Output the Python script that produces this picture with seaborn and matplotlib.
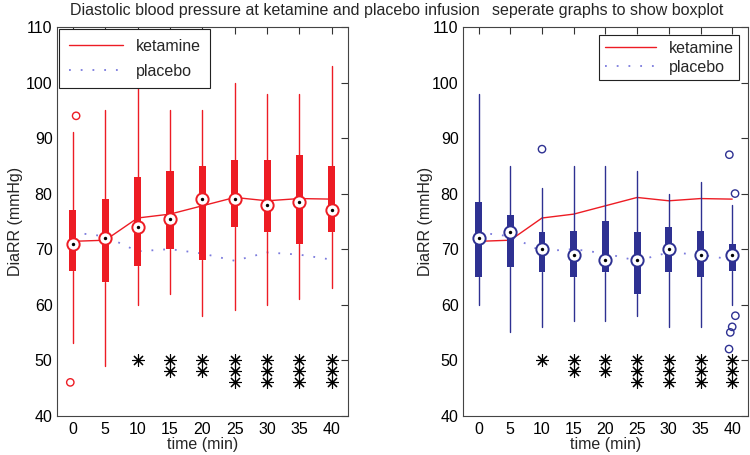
import numpy as np
import pandas as pd
import matplotlib
matplotlib.use("Agg")
import matplotlib.pyplot as plt
import seaborn as sns
from matplotlib.lines import Line2D

# ---------------- data ----------------
times = [0, 5, 10, 15, 20, 25, 30, 35, 40]

ket_whislo = [53, 49, 60, 62, 58, 59, 60, 61, 63]
ket_q1 = [66, 64, 67, 70, 68, 74, 73, 71, 73]
ket_med = [71, 72, 74, 75.5, 79, 79, 78, 78.5, 77]
ket_q3 = [77, 79, 83, 84, 85, 86, 86, 87, 85]
ket_whishi = [91, 95, 99, 95, 95, 100, 98, 98, 103]
ket_mean = [71.4, 71.6, 75.6, 76.3, 77.8, 79.3, 78.7, 79.1, 79.0]
ket_out_time = [0, 0]
ket_out_val = [94, 46]
ket_out_jit = [0.1, -0.08]

plac_whislo = [60, 55, 56, 57, 57, 58, 56, 56, 60]
plac_q1 = [65, 66.7, 65.8, 65, 65.8, 62, 65.8, 65, 66]
plac_med = [72, 73, 70, 69, 68, 68, 70, 69, 69]
plac_q3 = [78.5, 76.2, 73, 73.2, 75, 73, 74, 73.2, 71]
plac_whishi = [98, 85, 81, 85, 85, 84, 80, 82, 78]
plac_mean = [73.0, 72.3, 69.6, 70.0, 69.2, 67.9, 69.4, 69.0, 68.1]
plac_out_time = [10, 40, 40, 40, 40, 40, 40]
plac_out_val = [88, 87, 80, 58, 56, 55, 52]
plac_out_jit = [0.0, -0.09, 0.09, 0.1, 0.0, -0.06, -0.1]

star_counts = [0, 0, 1, 2, 2, 3, 3, 3, 3]
star_levels = [50, 48, 46]

RED = "#ED1C24"
BLUE = "#2E3192"
DOT = "#7B7BDD"
DOTSTYLE = (0, (1, 5.5))
FS = 11.5

sns.set_theme(style="white")
plt.rcParams["font.family"] = ["Liberation Sans", "DejaVu Sans"]
plt.rcParams["font.size"] = FS

fig = plt.figure(figsize=(7.5, 4.55), dpi=100)
ax1 = fig.add_axes([0.0756, 0.0864, 0.3884, 0.8543])
ax2 = fig.add_axes([0.617, 0.0864, 0.3804, 0.8543])

pos = np.arange(len(times))
tindex = {t: i for i, t in enumerate(times)}


def draw(ax, q1, med, q3, wlo, whi, out_t, out_v, out_j, color):
    stats = [dict(med=m, q1=a, q3=b, whislo=lo, whishi=hi, fliers=[])
             for m, a, b, lo, hi in zip(med, q1, q3, wlo, whi)]
    ax.bxp(stats, positions=pos, widths=0.22, patch_artist=True,
           showcaps=False, showfliers=False,
           boxprops=dict(facecolor=color, edgecolor="none", linewidth=0),
           whiskerprops=dict(color=color, linewidth=1.0),
           medianprops=dict(linewidth=0),
           manage_ticks=False, zorder=2)
    # median markers
    sns.scatterplot(x=pos, y=med, ax=ax, marker="o", s=78, facecolor="white",
                    edgecolor=color, linewidth=1.4, zorder=4, legend=False)
    sns.scatterplot(x=pos, y=med, ax=ax, marker="o", s=6, color="black",
                    edgecolor="black", linewidth=0, zorder=5, legend=False)
    # outliers
    ox = [tindex[t] + j for t, j in zip(out_t, out_j)]
    sns.scatterplot(x=ox, y=out_v, ax=ax, marker="o", s=28, facecolor="none",
                    edgecolor=color, linewidth=1.0, zorder=4, legend=False)


def common(ax):
    # mean lines
    sns.lineplot(x=pos, y=ket_mean, ax=ax, color=RED, linewidth=1.0, zorder=1)
    sns.lineplot(x=pos, y=plac_mean, ax=ax, color=DOT, linewidth=1.3,
                 linestyle=DOTSTYLE, zorder=1)
    # significance stars
    sx, sy = [], []
    for i, n in enumerate(star_counts):
        for k in range(n):
            sx.append(i)
            sy.append(star_levels[k])
    sns.scatterplot(x=sx, y=sy, ax=ax, marker=(8, 2, 0), s=75, color="black",
                    edgecolor="black", linewidth=0.8, zorder=4, legend=False)
    ax.set_xlim(-0.5, 8.5)
    ax.set_ylim(40, 110)
    ax.set_xticks(pos)
    ax.set_xticklabels([str(t) for t in times])
    ax.set_yticks(np.arange(40, 111, 10))
    ax.tick_params(direction="in", top=True, right=True, length=5, width=0.8,
                   color="#333333", labelsize=FS, pad=3, labelcolor="black")
    ax.tick_params(axis="x", pad=4.5)
    for s in ax.spines.values():
        s.set_color("#444444")
        s.set_linewidth(0.8)
    ax.set_xlabel("time (min)", fontsize=FS, labelpad=0)
    ax.set_ylabel("DiaRR (mmHg)", fontsize=FS)


draw(ax1, ket_q1, ket_med, ket_q3, ket_whislo, ket_whishi,
     ket_out_time, ket_out_val, ket_out_jit, RED)
common(ax1)
draw(ax2, plac_q1, plac_med, plac_q3, plac_whislo, plac_whishi,
     plac_out_time, plac_out_val, plac_out_jit, BLUE)
common(ax2)

ax1.yaxis.set_label_coords(-0.115, 0.5)
ax2.yaxis.set_label_coords(-0.105, 0.5)

handles = [Line2D([], [], color=RED, lw=1.0),
           Line2D([], [], color=DOT, lw=1.3, linestyle=DOTSTYLE)]
labels = ["ketamine", "placebo"]
for ax, anchor, loc, lsp, hl, bp in [(ax1, (0.008, 0.995), "upper left", 0.65, 3.4, 0.6),
                                     (ax2, (0.9685, 0.979), "upper right", 0.25, 3.2, 0.35)]:
    leg = ax.legend(handles, labels, loc=loc, bbox_to_anchor=anchor,
                    borderaxespad=0, fontsize=FS, handlelength=hl,
                    labelspacing=lsp, fancybox=False, framealpha=1,
                    edgecolor="#222222", borderpad=bp)
    leg.get_frame().set_linewidth(0.8)

fig.text(70 / 750, 1 - 15 / 455, "Diastolic blood pressure at ketamine and placebo infusion",
         ha="left", va="baseline", fontsize=FS)
fig.text(608 / 750, 1 - 15 / 455, "seperate graphs to show boxplot",
         ha="center", va="baseline", fontsize=FS)

fig.savefig("out.png", dpi=100)
